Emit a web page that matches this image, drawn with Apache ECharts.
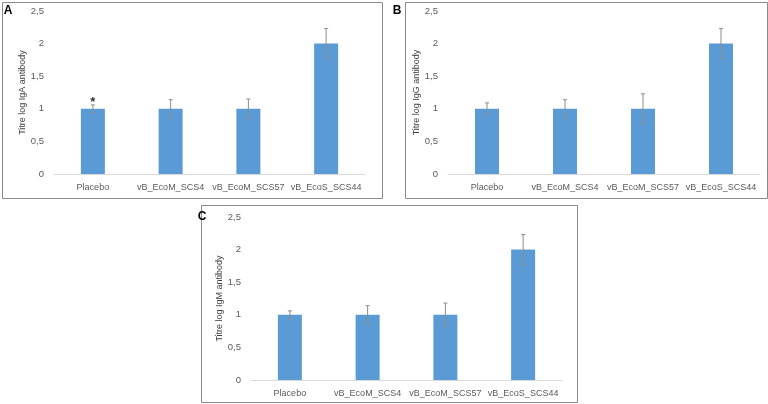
<!DOCTYPE html>
<html>
<head>
<meta charset="utf-8">
<script src="https://cdn.jsdelivr.net/npm/echarts@6/dist/echarts.min.js"></script>
<style>html,body{margin:0;padding:0;background:#fff;}#c{width:768px;height:404px;}</style>
</head>
<body>
<div id="c"></div>
<script>
const categories = ['Placebo', 'vB_EcoM_SCS4', 'vB_EcoM_SCS57', 'vB_EcoS_SCS44'];
const igaValues = [1, 1, 1, 2];
const igaErrors = [0.06, 0.14, 0.15, 0.23];
const igaMarks = ['*', '', '', ''];
const iggValues = [1, 1, 1, 2];
const iggErrors = [0.09, 0.14, 0.23, 0.23];
const iggMarks = ['', '', '', ''];
const igmValues = [1, 1, 1, 2];
const igmErrors = [0.06, 0.14, 0.18, 0.23];
const igmMarks = ['', '', '', ''];
const yTicks = { min: 0, max: 2.5, interval: 0.5 };
const panelTitles = ['Titre log IgA antibody', 'Titre log IgG antibody', 'Titre log IgM antibody'];
const panelLetters = ['A', 'B', 'C'];

const FONT = 'Liberation Sans';
const BAR = '#5B9BD5';
const TXT = '#595959';

const grids = [
  { left: 54, top: 11, width: 311, height: 163 },
  { left: 448, top: 11, width: 312, height: 163 },
  { left: 251, top: 217, width: 311, height: 163 }
];

function makeErr(marks) {
  return function (params, api) {
    const x = api.value(0), y = api.value(1), e = api.value(2);
    const top = api.coord([x, y + e]);
    const bot = api.coord([x, y - e]);
    const st = { stroke: '#8c8c8c', lineWidth: 1 };
    const ch = [
      { type: 'line', shape: { x1: top[0], y1: top[1], x2: bot[0], y2: bot[1] }, style: st },
      { type: 'line', shape: { x1: top[0] - 2, y1: top[1], x2: top[0] + 2, y2: top[1] }, style: st },
      { type: 'line', shape: { x1: bot[0] - 2, y1: bot[1], x2: bot[0] + 2, y2: bot[1] }, style: st }
    ];
    const m = marks[params.dataIndex];
    if (m) {
      ch.push({ type: 'text', style: { text: m, x: top[0], y: top[1] + 4, align: 'center', verticalAlign: 'bottom', fill: '#333', font: 'bold 13px ' + FONT } });
    }
    return { type: 'group', children: ch };
  };
}

const sets = [
  [igaValues, igaErrors, igaMarks],
  [iggValues, iggErrors, iggMarks],
  [igmValues, igmErrors, igmMarks]
];

const xAxis = [], yAxis = [], series = [];
sets.forEach((s, i) => {
  xAxis.push({
    type: 'category', gridIndex: i, data: categories,
    axisLine: { lineStyle: { color: '#d9d9d9' } },
    axisTick: { show: false },
    axisLabel: { color: TXT, fontFamily: FONT, fontSize: 9, margin: 9, interval: 0 }
  });
  yAxis.push({
    type: 'value', gridIndex: i, min: yTicks.min, max: yTicks.max, interval: yTicks.interval,
    axisLine: { show: false }, axisTick: { show: false }, splitLine: { show: false },
    axisLabel: { color: TXT, fontFamily: FONT, fontSize: 9.5, margin: 10, formatter: v => String(v).replace('.', ',') },
    name: panelTitles[i], nameLocation: 'middle', nameGap: 24,
    nameTextStyle: { color: '#404040', fontFamily: FONT, fontSize: 9 }
  });
  series.push({
    type: 'bar', xAxisIndex: i, yAxisIndex: i, data: s[0], barWidth: 24,
    itemStyle: { color: BAR }, silent: true
  });
  series.push({
    type: 'custom', xAxisIndex: i, yAxisIndex: i, z: 5, silent: true,
    data: s[0].map((v, k) => [k, v, s[1][k]]),
    renderItem: makeErr(s[2])
  });
});

const boxes = [
  { x: 2, y: 2, w: 380, h: 196 },
  { x: 405, y: 2, w: 362, h: 196 },
  { x: 201, y: 205, w: 376, h: 197 }
];
const letterPos = [[8, 11], [397, 11], [202, 217]];
const graphic = [];
boxes.forEach(b => graphic.push({ type: 'rect', shape: { x: b.x + 0.5, y: b.y + 0.5, width: b.w, height: b.h }, style: { fill: 'none', stroke: '#8a8a8a', lineWidth: 1 }, silent: true }));
letterPos.forEach((p, i) => graphic.push({ type: 'text', x: p[0], y: p[1], style: { text: panelLetters[i], font: 'bold 12px ' + FONT, fill: '#000', align: 'center', verticalAlign: 'middle' }, silent: true }));

const chart = echarts.init(document.getElementById('c'), null, { renderer: 'canvas' });
chart.setOption({
  animation: false,
  backgroundColor: '#fff',
  grid: grids,
  xAxis, yAxis, series, graphic
});
</script>
</body>
</html>
